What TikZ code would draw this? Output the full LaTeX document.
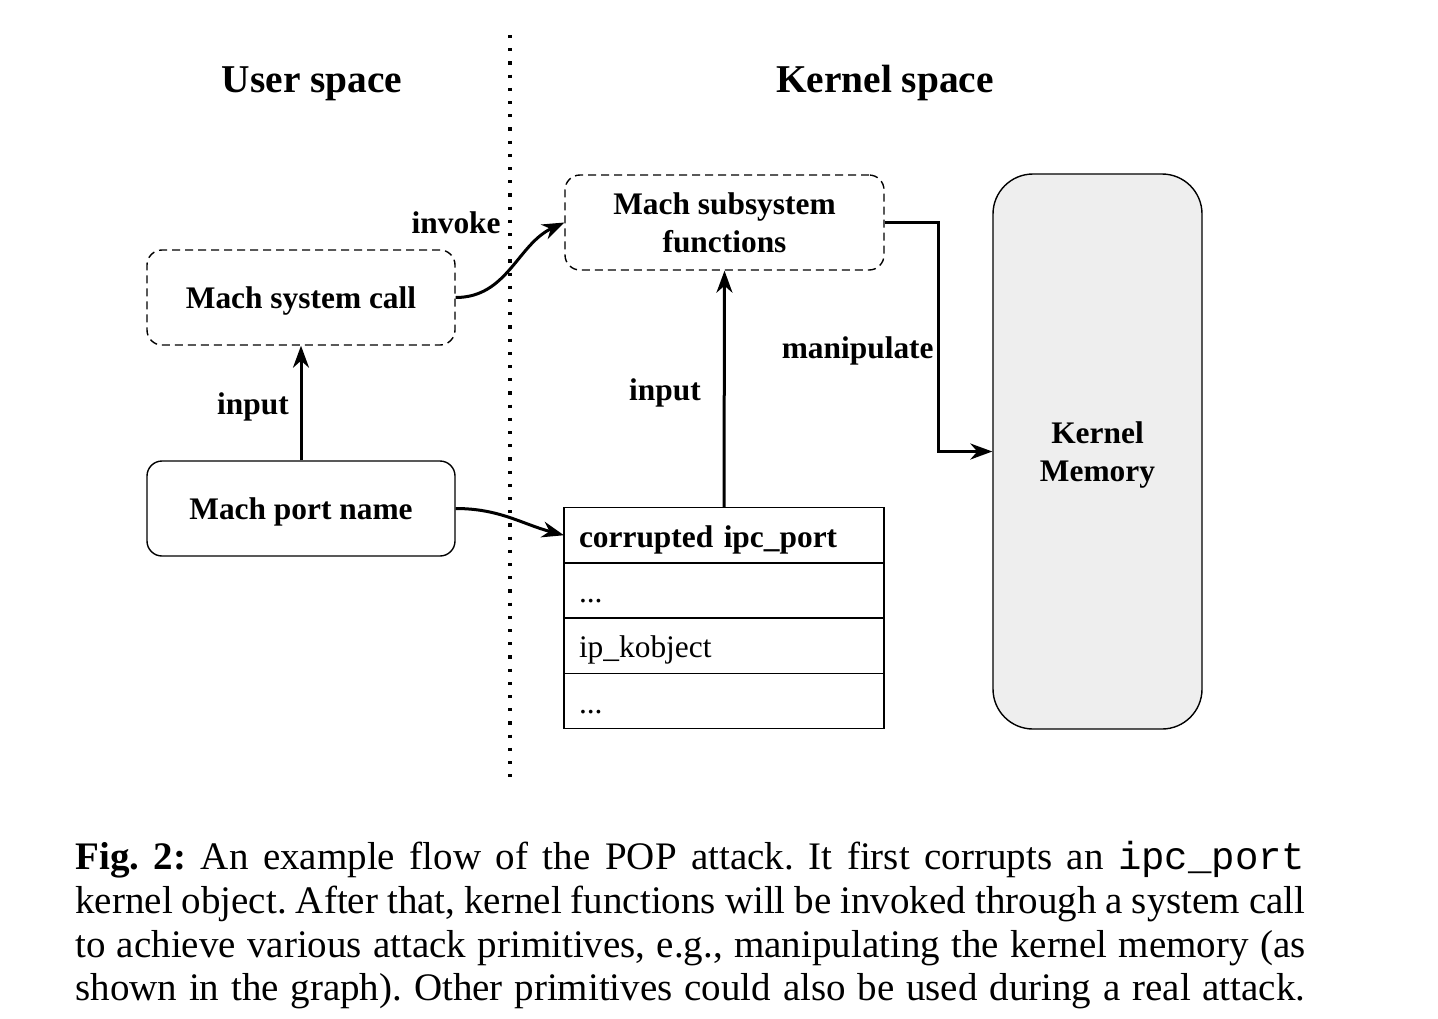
\documentclass[tikz,border=0pt]{standalone}
\usepackage{fontspec}
\setmainfont{Liberation Serif}
\setmonofont{Liberation Mono}
\usepackage{tikz}
\usetikzlibrary{positioning,arrows.meta}
\definecolor{memgray}{HTML}{EEEEEE}
\frenchspacing

\begin{document}
\begin{tikzpicture}[x=0.5pt,y=-0.5pt,
  lbl/.style={font=\fontsize{15.7}{18.8}\selectfont\bfseries},
  tag/.style={lbl,inner sep=0pt},
  title/.style={font=\fontsize{19.7}{23.6}\selectfont\bfseries},
  fnbox/.style={draw,dash pattern=on 4pt off 2.5pt,line width=0.7pt,rounded corners=7.5pt,
    minimum width=154pt,minimum height=47.5pt,text depth=0pt,align=center,lbl},
  portbox/.style={draw,line width=0.7pt,rounded corners=7.5pt,minimum width=154pt,minimum height=47.5pt,
    text depth=0pt,lbl},
  fieldrow/.style={draw,line width=0.7pt,outer sep=0pt,text width=145pt,inner xsep=7.5pt,inner ysep=0pt,
    minimum height=27.6pt,text height=12pt,text depth=0pt,align=left,font=\fontsize{15.7}{18.8}\selectfont},
  arr/.style={line width=1.5pt,-{Stealth[length=11pt,width=8pt,inset=3.5pt]}}]
  \useasboundingbox (0,0) rectangle (1438,1018);
  % user / kernel split
  \coordinate (dtop) at (510,35);
  \coordinate (dbot) at (510,780);
  \draw[line width=1.6pt,dash pattern=on 1.6pt off 5pt] (dtop) -- (dbot);
  \node[title,anchor=base] (usr) at (312,92) {User space};
  \node[title,anchor=base] (krn) at (885,92) {Kernel space};
  % boxes
  \node[fnbox] (syscall) at (301,297.5) {Mach system call};
  \node[portbox] (portname) at (301,508.5) {Mach port name};
  \node[fnbox,minimum width=159.5pt] (subsys) at (724.5,222.5) {Mach subsystem\\functions};
  \node[draw,line width=0.7pt,fill=memgray,rounded corners=20pt,minimum width=104.5pt,minimum height=277.5pt,
    text depth=0pt,align=center,lbl] (kmem) at (1097.5,451.5) {Kernel\\Memory};
  % ipc_port fields
  \foreach \i/\txt in {1/{\textbf{corrupted ipc\_port}},2/{...},3/{ip\_kobject},4/{...}}{
    \node[fieldrow] (row\i) at (724,480+55.25*\i) {\txt};
  }
  % connectors
  \draw[arr] (portname.north) -- (syscall.south);
  \node[tag,anchor=base] (inl) at (253,414) {input};
  \draw[arr] (syscall.east) to[out=0,in=205] (subsys.west);
  \node[tag,anchor=base east] (inv) at (501,233) {invoke};
  \draw[arr] (portname.east) to[out=0,in=165] (row1.west);
  \draw[arr] (row1.north) -- (subsys.south);
  \node[tag,anchor=base] (inr) at (665,400) {input};
  \draw[arr] (subsys.east) -- ++(54,0) |- (kmem.west);
  \node[tag,anchor=base east] (man) at (934,358) {manipulate};
  % caption
  \node[anchor=north west,inner sep=0pt,text width=615pt,align=justify,font=\fontsize{19.5}{21.85}\selectfont]
    (caption) at (75,841) {\textbf{Fig. 2:} An example flow of the POP attack. It first corrupts an \texttt{ipc\_port}\linebreak
    kernel object. After that, kernel functions will be invoked through a system call\linebreak
    to achieve various attack primitives, e.g., manipulating the kernel memory (as\linebreak
    shown in the graph). Other primitives could also be used during a real attack.\parfillskip=0pt\par};
\end{tikzpicture}
\end{document}
